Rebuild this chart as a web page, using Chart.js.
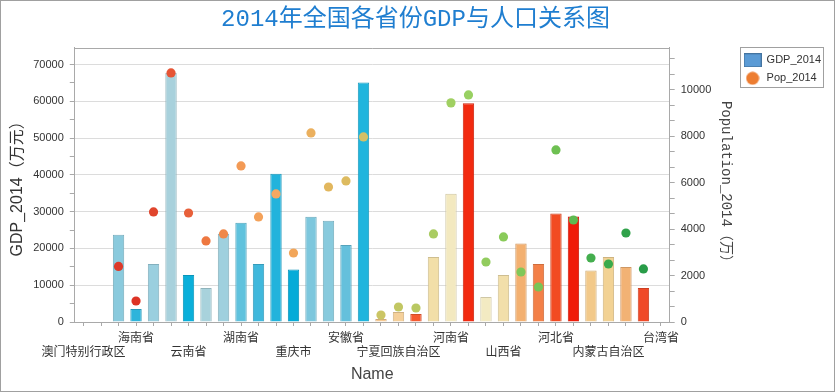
<!DOCTYPE html>
<html>
<head>
<meta charset="utf-8">
<script src="https://cdn.jsdelivr.net/npm/chart.js@4.4.0/dist/chart.umd.min.js"></script>
<style>
  html, body { margin: 0; padding: 0; background: #fff; }
  #wrap { width: 835px; height: 392px; }
</style>
</head>
<body>
<div id="wrap"><canvas id="chart" width="835" height="392"></canvas></div>
<script>
// 2014 GDP (万元 axis) and population (万) by province, in the chart's order
var provinces = ['澳门特别行政区', '香港特别行政区', '上海市', '海南省', '广西壮族自治区', '广东省', '云南省', '贵州省',
  '福建省', '湖南省', '江西省', '浙江省', '重庆市', '四川省', '湖北省', '安徽省', '江苏省', '西藏自治区',
  '宁夏回族自治区', '青海省', '陕西省', '河南省', '山东省', '甘肃省', '山西省', '北京市', '天津市', '河北省',
  '辽宁省', '吉林省', '内蒙古自治区', '黑龙江省', '新疆维吾尔自治区', '台湾省'];

var gdp2014 = [null, null, 23700, 3540, 15800, 67800, 12800, 9260, 24000, 27000, 15800, 40300, 14250, 28600,
  27500, 20950, 65100, 820, 2720, 2180, 17700, 34900, 59450, 6810, 12800, 21330, 15800, 29500, 28680, 13970,
  17700, 14980, 9260, null];

var pop2014 = [null, null, 2390, 904, 4735, 10720, 4690, 3490, 3790, 6715, 4520, 5510, 2970, 8136, 5810, 6070,
  7964, 300, 646, 603, 3790, 9430, 9770, 2583, 3660, 2152, 1507, 7404, 4390, 2755, 2497, 3830, 2282, null];

var barColors = ['#8ECDE0', '#8ECDE0', '#8ACADD', '#2EB4DB', '#9ACFDF', '#A8D1DC', '#0AAFDA', '#A8D2DC',
  '#9FD0DE', '#60C2DD', '#40B8DC', '#22B3DC', '#05ABD8', '#7DC7DD', '#88CADD', '#65C0DC', '#20B5DD', '#F5C890',
  '#F5D09A', '#F55A30', '#F2DFA8', '#F3E9C0', '#F22A10', '#F3EAC2', '#F2DFAA', '#F3B070', '#F38048', '#F24B22',
  '#F01A08', '#F2C98A', '#F2D294', '#F2B274', '#F04A28', '#F04A28'];

var dotColors = ['#DC3A2A', '#DC3A2A', '#DC3A2A', '#DD3325', '#E0452D', '#E65535', '#E8603A', '#EE7840',
  '#F08848', '#F39A55', '#F4A25A', '#F5A862', '#F2A65A', '#EBB05E', '#E2B75E', '#DDBB60', '#D5C066', '#CBC564',
  '#C2C763', '#B9C862', '#AACC62', '#A0D062', '#98D062', '#92CC5E', '#8ACB5A', '#80C758', '#78C456', '#6EC052',
  '#5EBA50', '#44AE4E', '#3AAA4C', '#30A24A', '#289C48', '#289C48'];

var seriesNames = ['GDP_2014', 'Pop_2014'];
var legendColors = ['#5B9BD5', '#ED7D31'];

function darken(hex, f) {
  var n = parseInt(hex.slice(1), 16);
  var r = Math.round(((n >> 16) & 255) * f);
  var g = Math.round(((n >> 8) & 255) * f);
  var b = Math.round((n & 255) * f);
  return 'rgb(' + r + ',' + g + ',' + b + ')';
}

function legendIcon(kind, fill) {
  var c = document.createElement('canvas');
  var g = c.getContext('2d');
  if (kind === 'rect') {
    c.width = 18; c.height = 14;
    g.fillStyle = fill;
    g.fillRect(0.5, 0.5, 17, 13);
    g.strokeStyle = darken(fill, 0.75);
    g.strokeRect(0.5, 0.5, 17, 13);
  } else {
    c.width = 14; c.height = 14;
    g.fillStyle = fill;
    g.beginPath();
    g.arc(7, 7, 6.5, 0, Math.PI * 2);
    g.fill();
  }
  return c;
}

var CJK = "'Liberation Sans', 'Noto Sans CJK SC', sans-serif";
var SONG = "'Liberation Mono', 'Noto Sans CJK SC', monospace";
Chart.defaults.font.family = CJK;
Chart.defaults.color = '#333';

var framePlugin = {
  id: 'frame',
  afterDraw: function(chart) {
    var ctx = chart.ctx, a = chart.chartArea;
    ctx.save();
    ctx.lineWidth = 1;
    ctx.strokeStyle = '#a9a9a9';
    var t = Math.round(a.top) + 0.5;
    ctx.beginPath();
    ctx.moveTo(a.left, t);
    ctx.lineTo(a.right, t);
    ctx.stroke();

    // box round the legend
    var hb = chart.legend.legendHitBoxes;
    if (hb && hb.length) {
      var x1 = hb[0].left, y1 = hb[0].top, x2 = 0, y2 = 0;
      hb.forEach(function(h) {
        x1 = Math.min(x1, h.left); y1 = Math.min(y1, h.top);
        x2 = Math.max(x2, h.left + h.width); y2 = Math.max(y2, h.top + h.height);
      });
      ctx.strokeStyle = '#a0a0a0';
      var bx = Math.round(x1 - 4) + 0.5, by = Math.round(y1 - 8) + 0.5;
      ctx.strokeRect(bx, by, Math.round(x2 + 2) + 0.5 - bx, Math.round(y2 + 3) + 0.5 - by);
    }

    ctx.strokeStyle = '#a0a0a0';
    ctx.strokeRect(0.5, 0.5, chart.width - 1, chart.height - 1);
    ctx.restore();
  }
};

var ctx = document.getElementById('chart').getContext('2d');

var chart = new Chart(ctx, {
  data: {
    labels: provinces,
    datasets: [{
      type: 'bar',
      label: seriesNames[0],
      data: gdp2014,
      yAxisID: 'y',
      backgroundColor: barColors,
      borderColor: barColors.map(function(c) { return darken(c, 0.85); }),
      borderWidth: 1,
      barPercentage: 0.65,
      categoryPercentage: 1,
      order: 2
    }, {
      type: 'line',
      label: seriesNames[1],
      data: pop2014,
      yAxisID: 'y1',
      showLine: false,
      pointRadius: 4.6,
      pointBorderWidth: 0,
      pointBackgroundColor: dotColors,
      pointBorderColor: dotColors,
      order: 1
    }]
  },
  options: {
    responsive: false,
    devicePixelRatio: 1,
    animation: false,
    layout: { padding: { left: 0, right: 4, top: 0, bottom: 0 } },
    plugins: {
      tooltip: { enabled: false },
      title: {
        display: true,
        text: '2014年全国各省份GDP与人口关系图',
        color: '#1F7ED0',
        font: { family: SONG, size: 24, weight: 'normal' },
        padding: { top: 5, bottom: 14 }
      },
      legend: {
        position: 'right',
        align: 'start',
        fullSize: false,
        labels: {
          usePointStyle: true,
          pointStyleWidth: 17,
          padding: 7,
          color: '#333',
          font: { size: 11 },
          generateLabels: function() {
            return [
              { text: seriesNames[0], pointStyle: legendIcon('rect', legendColors[0]), fillStyle: legendColors[0], strokeStyle: legendColors[0], lineWidth: 0, hidden: false, datasetIndex: 0, fontColor: '#333' },
              { text: seriesNames[1], pointStyle: legendIcon('circle', legendColors[1]), fillStyle: legendColors[1], strokeStyle: legendColors[1], lineWidth: 0, hidden: false, datasetIndex: 1, fontColor: '#333' }
            ];
          }
        }
      }
    },
    scales: {
      x: {
        offset: true,
        grid: { offset: false, drawOnChartArea: false, tickLength: 4, tickColor: '#a9a9a9' },
        border: { color: '#a9a9a9' },
        ticks: {
          autoSkip: false,
          maxRotation: 0,
          minRotation: 0,
          padding: 5,
          color: '#333',
          font: { size: 12 },
          callback: function(v, i) {
            if (i % 3) return '';
            var lab = this.getLabelForValue(v);
            return (i / 3) % 2 ? [lab] : ['', lab];
          }
        },
        title: { display: true, text: 'Name', color: '#444', font: { size: 16 }, padding: { top: 0, bottom: 8 } }
      },
      y: {
        position: 'left',
        min: 0,
        max: 74550,
        afterBuildTicks: function(s) {
          var t = [];
          for (var v = 0; v <= 70000; v += 5000) t.push({ value: v });
          s.ticks = t;
        },
        grid: {
          color: function(c) { return (c.tick && c.tick.value % 10000 === 0) ? '#dcdcdc' : 'rgba(0,0,0,0)'; },
          tickColor: '#a9a9a9',
          tickLength: 5
        },
        border: { color: '#a9a9a9' },
        ticks: {
          autoSkip: false,
          padding: 6,
          color: '#333',
          font: { size: 11 },
          callback: function(v) { return v % 10000 === 0 ? String(v) : ''; }
        },
        title: { display: true, text: 'GDP_2014（万元）', color: '#333', font: { size: 16 }, padding: { top: 8, bottom: 0 } }
      },
      y1: {
        position: 'right',
        min: 0,
        max: 11800,
        afterBuildTicks: function(s) {
          var t = [];
          for (var i = 0; i * 2000 / 3 <= 11800; i++) t.push({ value: i * 2000 / 3 });
          s.ticks = t;
        },
        grid: { drawOnChartArea: false, tickColor: '#a9a9a9', tickLength: 5 },
        border: { color: '#a9a9a9' },
        ticks: {
          autoSkip: false,
          padding: 6,
          color: '#333',
          font: { size: 11 },
          callback: function(v) {
            var k = v / 2000;
            return Math.abs(k - Math.round(k)) < 1e-6 ? String(Math.round(v)) : '';
          }
        },
        title: { display: true, text: 'Population_2014（万）', color: '#444', font: { family: SONG, size: 14 }, padding: { top: 3, bottom: 0 } }
      }
    }
  },
  plugins: [framePlugin]
});
</script>
</body>
</html>
